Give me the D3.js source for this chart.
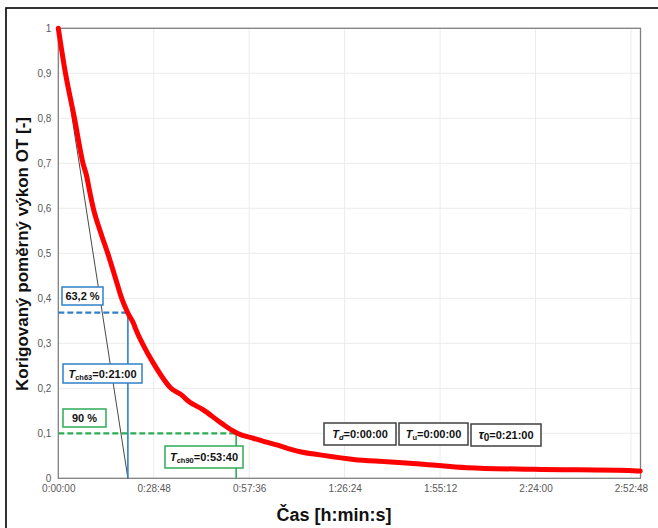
<!DOCTYPE html>
<html><head><meta charset="utf-8">
<script src="https://cdn.jsdelivr.net/npm/d3@7"></script>
<style>
html,body{margin:0;padding:0;background:#fff;}
svg{display:block;font-family:"Liberation Sans",Arial,sans-serif;}
</style></head>
<body>
<svg id="c" width="658" height="528"></svg>
<script>
// ---- data ----
// time in seconds, corrected relative power [-]
const timeSec = [0,130,293,447,520,545,634,773,895,1027,1148,1257,1370,1400,1522,1721,2041,2265,2295,2626,2959,3140,3240,3532,3834,4015,4200,4378,4740,5343,5948,6551,7397,8604,10415,10536];
const power   = [1,0.9,0.8,0.7,0.668,0.652,0.6,0.544,0.5,0.448,0.4,0.368,0.342,0.332,0.3,0.256,0.2,0.182,0.178,0.152,0.122,0.107,0.1,0.089,0.078,0.072,0.065,0.059,0.052,0.042,0.037,0.032,0.0236,0.02,0.017,0.016];
const xTickSec = [0,1728,3456,5184,6912,8640,10368];
const xTickLabels = ["0:00:00","0:28:48","0:57:36","1:26:24","1:55:12","2:24:00","2:52:48"];
const yTicks = [0,0.1,0.2,0.3,0.4,0.5,0.6,0.7,0.8,0.9,1];
const yTickLabels = ["0","0,1","0,2","0,3","0,4","0,5","0,6","0,7","0,8","0,9","1"];
const xMax = 10540.8;
const tau0 = 1260;      // 0:21:00
const tch63 = 1260;     // 0:21:00
const tch90 = 3220;     // 0:53:40
const level63 = 0.368;
const level90 = 0.1;

// ---- drawing ----
const svg = d3.select("#c");
const L=58.3, R=640.5, T=28.3, B=478.3;
const x = d3.scaleLinear().domain([0,xMax]).range([L,R]);
const y = d3.scaleLinear().domain([0,1]).range([B,T]);

// outer frame
svg.append("rect").attr("x",6).attr("y",8).attr("width",700).attr("height",600)
  .attr("fill","none").attr("stroke","#000").attr("stroke-width",1.6);

// grid
const g = svg.append("g");
g.selectAll(".vg").data(xTickSec.slice(1)).enter().append("line")
  .attr("x1",d=>x(d)).attr("x2",d=>x(d)).attr("y1",T).attr("y2",B)
  .attr("stroke","#ececec").attr("stroke-width",1);
g.selectAll(".hg").data(yTicks.slice(1)).enter().append("line")
  .attr("x1",L).attr("x2",R).attr("y1",d=>y(d)).attr("y2",d=>y(d))
  .attr("stroke","#ececec").attr("stroke-width",1);

// plot border
svg.append("rect").attr("x",L).attr("y",T).attr("width",R-L).attr("height",B-T)
  .attr("fill","none").attr("stroke","#808080").attr("stroke-width",1.3);

// axes via d3
const xAxis = d3.axisBottom(x).tickValues(xTickSec).tickSize(0).tickPadding(7)
  .tickFormat((d,i)=>xTickLabels[i]);
const ya = d3.axisLeft(y).tickValues(yTicks).tickSize(0).tickPadding(7)
  .tickFormat((d,i)=>yTickLabels[i]);
const gx = svg.append("g").attr("transform",`translate(0,${B})`).call(xAxis);
const gy = svg.append("g").attr("transform",`translate(${L},0)`).call(ya);
[gx,gy].forEach(a=>{
  a.select(".domain").remove();
  a.selectAll("text").attr("fill","#595959").style("font-size","10px")
    .style("font-family","'Liberation Sans',Arial,sans-serif");
});

// tangent line
svg.append("line").attr("x1",x(0)).attr("y1",y(1)).attr("x2",x(tau0)).attr("y2",y(0))
  .attr("stroke","#333").attr("stroke-width",0.9);

const blue="#2f80c6", green="#2eac55";
// 63.2% guides
svg.append("line").attr("x1",L).attr("x2",x(tch63)).attr("y1",y(level63)).attr("y2",y(level63))
  .attr("stroke",blue).attr("stroke-width",2.2).attr("stroke-dasharray","6,3");
svg.append("line").attr("x1",x(tch63)).attr("x2",x(tch63)).attr("y1",y(level63)).attr("y2",B)
  .attr("stroke",blue).attr("stroke-width",1.6);
// 90% guides
svg.append("line").attr("x1",L).attr("x2",x(tch90)).attr("y1",y(level90)).attr("y2",y(level90))
  .attr("stroke",green).attr("stroke-width",2.2).attr("stroke-dasharray","6,3");
svg.append("line").attr("x1",x(tch90)).attr("x2",x(tch90)).attr("y1",y(level90)).attr("y2",B)
  .attr("stroke",green).attr("stroke-width",1.6);

// red curve
const pts = timeSec.map((t,i)=>[t,power[i]]);
svg.append("path").datum(pts)
  .attr("d",d3.line().curve(d3.curveMonotoneX).x(d=>x(d[0])).y(d=>y(d[1])))
  .attr("fill","none").attr("stroke","#ff0000").attr("stroke-width",5)
  .attr("stroke-linejoin","round").attr("stroke-linecap","round");

// annotation boxes
function box(bx,by,bw,bh,color,parts){
  svg.append("rect").attr("x",bx).attr("y",by).attr("width",bw).attr("height",bh)
    .attr("fill","#fff").attr("stroke",color).attr("stroke-width",1.5);
  const t = svg.append("text").attr("x",bx+bw/2).attr("y",by+bh/2+4)
    .attr("text-anchor","middle").attr("fill","#111")
    .style("font-size","11px").style("font-weight","bold");
  parts.forEach(p=>{
    const s=t.append("tspan").text(p.t);
    if(p.i) s.style("font-style","italic");
    if(p.sub) s.style("font-size","7.5px").attr("dy",2);
    if(p.up) s.attr("dy",-2);
    if(p.fs) s.style("font-size",p.fs);
  });
}
box(62,287,41,18,blue,[{t:"63,2 %"}]);
box(63,364,79,19,blue,[{t:"T",i:1},{t:"ch63",sub:1},{t:"=0:21:00",up:1}]);
box(63,409,43,18,green,[{t:"90 %"}]);
box(165,446,78,22,green,[{t:"T",i:1},{t:"ch90",sub:1},{t:"=0:53:40",up:1}]);
box(324,423,72,22,"#404040",[{t:"T",i:1},{t:"d",sub:1,i:1},{t:"=0:00:00",up:1}]);
box(399,423,69,22,"#404040",[{t:"T",i:1},{t:"u",sub:1},{t:"=0:00:00",up:1}]);
box(471,424,70,22,"#404040",[{t:"τ",i:1,fs:"13px"},{t:"0",sub:1,fs:"10px"},{t:"=0:21:00",up:1}]);

// axis titles
svg.append("text").attr("transform","translate(27.5,254) rotate(-90)")
  .attr("text-anchor","middle").style("font-size","17px").style("font-weight","bold")
  .attr("fill","#111").text("Korigovaný poměrný výkon OT [-]");
svg.append("text").attr("x",334).attr("y",521).attr("text-anchor","middle")
  .style("font-size","18px").style("font-weight","bold").attr("fill","#111")
  .text("Čas [h:min:s]");
</script>
</body></html>
